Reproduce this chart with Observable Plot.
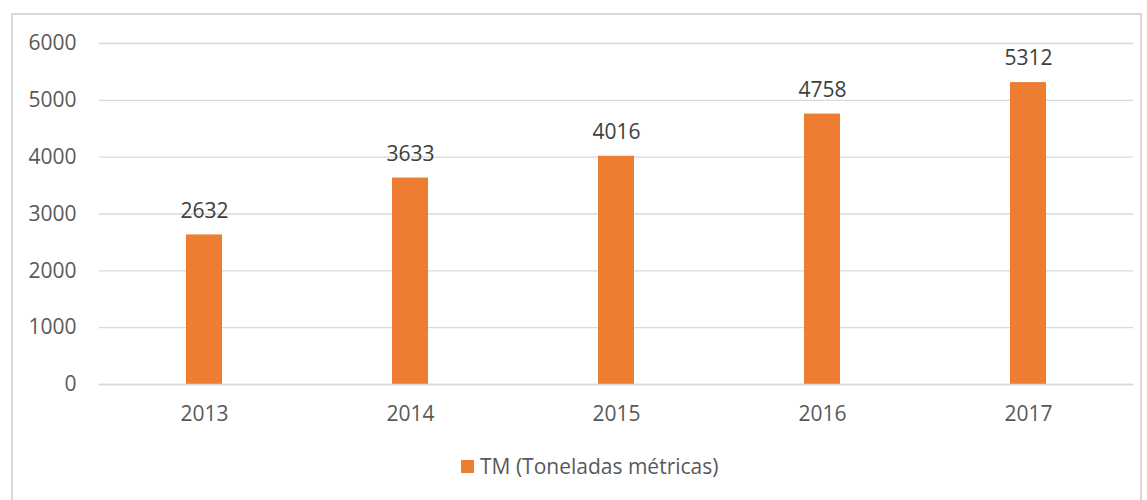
<!DOCTYPE html>
<html>
<head>
<meta charset="utf-8">
<script src="https://cdn.jsdelivr.net/npm/d3@7"></script>
<script src="https://cdn.jsdelivr.net/npm/@observablehq/plot@0.6"></script>
<style>
  html, body { margin: 0; padding: 0; background: #fff; }
  #wrap { position: relative; width: 1147px; height: 500px; overflow: hidden; font-family: "Open Sans", sans-serif; }
  #border { position: absolute; left: 11px; top: 13px; width: 1131px; height: 520px; border: 2px solid #d9d9d9; box-sizing: border-box; }
  #chart { position: absolute; left: 0; top: 0; }
  #legend { position: absolute; left: 461px; top: 452px; display: flex; align-items: center; font-size: 21px; color: #595959; white-space: nowrap; }
  #legend .sw { width: 13px; height: 13px; background: #ED7D31; margin-right: 6px; }
</style>
</head>
<body>
<div id="wrap">
  <div id="border"></div>
  <div id="chart"></div>
  <div id="legend"><span class="sw"></span><span id="legtext"></span></div>
</div>
<script>
const years = ["2013", "2014", "2015", "2016", "2017"];
const values = [2632, 3633, 4016, 4758, 5312];
const yTicks = [0, 1000, 2000, 3000, 4000, 5000, 6000];
const seriesName = "TM (Toneladas métricas)";

const data = years.map((y, i) => ({year: y, value: values[i]}));

const chart = Plot.plot({
  width: 1147,
  height: 500,
  marginLeft: 99,
  marginRight: 14,
  marginTop: 43,
  marginBottom: 116,
  style: {fontFamily: "'Open Sans', sans-serif", fontSize: "21px", background: "transparent"},
  x: {domain: years, paddingInner: 0.826, paddingOuter: 0.413, label: null},
  y: {domain: [0, 6000], ticks: yTicks, label: null},
  marks: [
    Plot.ruleY(yTicks, {stroke: "#d9d9d9", strokeWidth: 1.3}),
    Plot.barY(data, {x: "year", y: "value", fill: "#ED7D31"}),
    Plot.ruleY([0], {stroke: "#d9d9d9", strokeWidth: 1.5}),
    Plot.text(data, {x: "year", y: "value", text: d => String(d.value), dy: -24, fill: "#404040", fontSize: 21}),
    Plot.axisY({ticks: yTicks, tickSize: 0, tickPadding: 23, tickFormat: d => String(d), color: "#595959", fontSize: 21, label: null}),
    Plot.axisX({tickSize: 0, tickPadding: 22, color: "#595959", fontSize: 21, label: null})
  ]
});
document.getElementById("chart").appendChild(chart);
document.getElementById("legtext").textContent = seriesName;
</script>
</body>
</html>
